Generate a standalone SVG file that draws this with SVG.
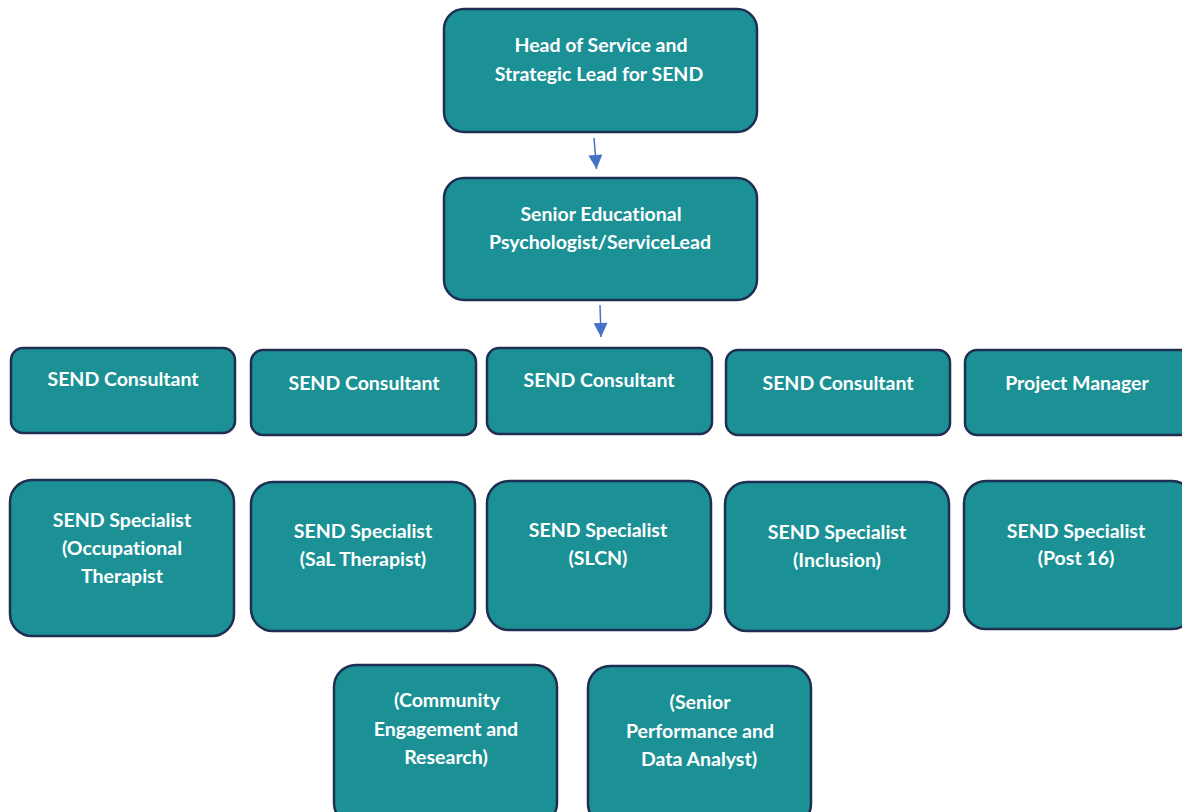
<svg xmlns="http://www.w3.org/2000/svg" width="1182" height="812" viewBox="0 0 1182 812">
<defs>
<style>
.box{fill:#1B9196;stroke:#1E2F52;stroke-width:2.5}
.t{font-family:Lato,"Open Sans","Liberation Sans",sans-serif;font-weight:bold;font-size:19.5px;fill:#FFFFFF;text-anchor:middle;dominant-baseline:central;font-variant-ligatures:none;font-feature-settings:"liga" 0}
.c{stroke:#4472C4;stroke-width:1.5;fill:none}
</style>
<marker id="ah" viewBox="0 0 10 10" refX="10" refY="5" markerWidth="15" markerHeight="14" markerUnits="userSpaceOnUse" orient="auto"><path d="M0,0 L10,5 L0,10 z" fill="#4472C4"/></marker>
</defs>
<rect width="1182" height="812" fill="#FFFFFF"/>
<g id="connectors">
<path class="c" d="M594,138 L596.5,169" marker-end="url(#ah)"/>
<path class="c" d="M600,305 L601,337" marker-end="url(#ah)"/>
</g>
<g id="head"><rect class="box" x="444" y="9" width="313" height="123" rx="20"/><text class="t" x="601" y="44">Head of Service and</text><text class="t" x="599" y="73">Strategic Lead for SEND</text></g>
<g id="senior-ep"><rect class="box" x="444" y="178" width="313" height="122" rx="20"/><text class="t" x="601" y="213">Senior Educational</text><text class="t" x="600" y="241">Psychologist/ServiceLead</text></g>
<g id="consultant1"><rect class="box" x="11" y="348" width="224" height="85" rx="12"/><text class="t" x="123" y="378">SEND Consultant</text></g>
<g id="consultant2"><rect class="box" x="251" y="350" width="225" height="85" rx="12"/><text class="t" x="364" y="382">SEND Consultant</text></g>
<g id="consultant3"><rect class="box" x="487" y="348" width="225" height="86" rx="12"/><text class="t" x="599" y="379">SEND Consultant</text></g>
<g id="consultant4"><rect class="box" x="726" y="350" width="224" height="85" rx="12"/><text class="t" x="838" y="382">SEND Consultant</text></g>
<g id="project-manager"><rect class="box" x="965" y="350" width="230" height="85" rx="12"/><text class="t" x="1077" y="382">Project Manager</text></g>
<g id="specialist-ot"><rect class="box" x="10" y="480" width="224" height="156" rx="22"/><text class="t" x="122" y="519">SEND Specialist</text><text class="t" x="122" y="547">(Occupational</text><text class="t" x="122" y="575">Therapist</text></g>
<g id="specialist-sal"><rect class="box" x="251" y="482" width="224" height="149" rx="22"/><text class="t" x="363" y="530">SEND Specialist</text><text class="t" x="363" y="558">(SaL Therapist)</text></g>
<g id="specialist-slcn"><rect class="box" x="487" y="481" width="224" height="149" rx="22"/><text class="t" x="598" y="529">SEND Specialist</text><text class="t" x="598" y="557">(SLCN)</text></g>
<g id="specialist-inclusion"><rect class="box" x="725" y="482" width="224" height="149" rx="22"/><text class="t" x="837" y="531">SEND Specialist</text><text class="t" x="837" y="559">(Inclusion)</text></g>
<g id="specialist-post16"><rect class="box" x="964" y="481" width="230" height="148" rx="22"/><text class="t" x="1076" y="530">SEND Specialist</text><text class="t" x="1076" y="557">(Post 16)</text></g>
<g id="community"><rect class="box" x="334" y="665" width="223" height="160" rx="22"/><text class="t" x="447" y="699">(Community</text><text class="t" x="446" y="728">Engagement and</text><text class="t" x="446" y="756">Research)</text></g>
<g id="performance"><rect class="box" x="588" y="666" width="223" height="160" rx="22"/><text class="t" x="700" y="701">(Senior</text><text class="t" x="700" y="730">Performance and</text><text class="t" x="699" y="758">Data Analyst)</text></g>
</svg>
